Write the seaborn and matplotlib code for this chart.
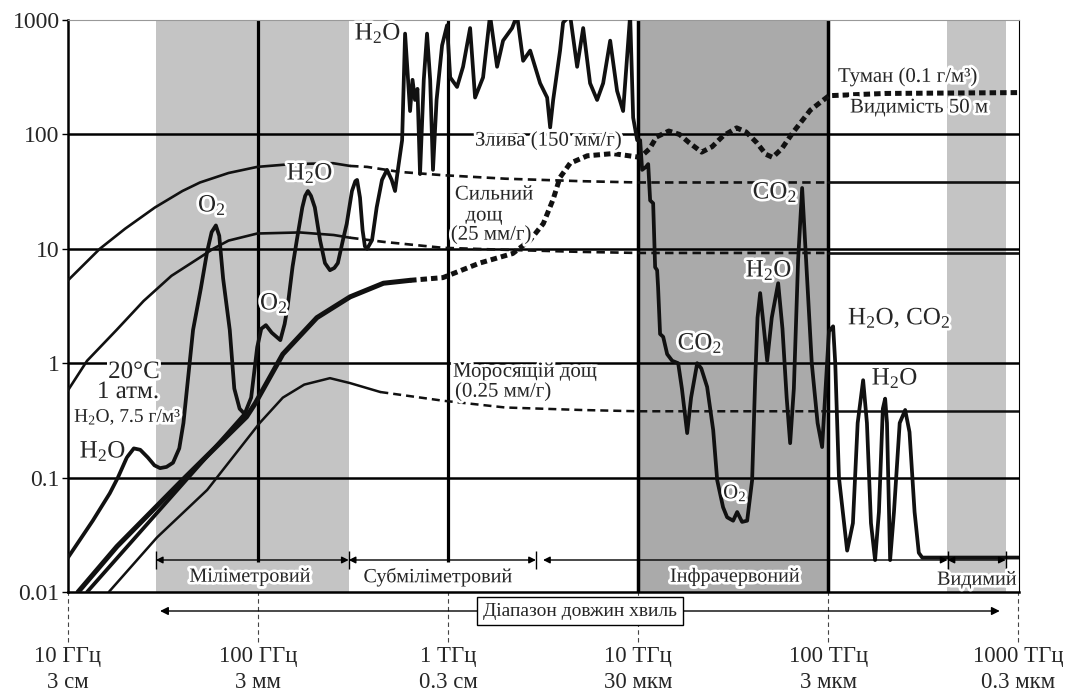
import matplotlib
matplotlib.use("Agg")
import matplotlib.pyplot as plt
import matplotlib.patheffects as pe
from matplotlib.ticker import NullLocator
import numpy as np
import seaborn as sns

# frequency in GHz, attenuation in dB/km
gas_ghz = [10, 13.5, 16.6, 18.3, 20.4, 22.2, 24, 26.3, 28.5, 30.5, 33, 35.7, 38.5,
           40.5, 42.3, 45.5, 50, 54, 57, 60, 62.5, 65.5, 71, 75, 80, 85, 92, 99,
           104, 110, 118, 131, 138, 143, 152, 160, 171, 177, 183, 190, 199, 212,
           225, 239, 252, 263, 280, 293, 312, 325, 332, 344, 355, 365, 375, 398,
           421, 449, 477, 505, 526, 547, 573, 594, 631, 650, 670, 690, 712, 745,
           775, 805, 833, 870, 930, 988, 1026, 1115, 1199, 1306, 1387, 1528, 1663,
           1811, 1947, 2172, 2307, 2483, 2704, 3050, 3321, 3445, 3573, 3884, 4030,
           4388, 4777, 5140, 5588, 6085, 6546, 7129, 7751, 8339, 9080, 9418, 9888,
           10250, 10500, 11000, 11300, 11570, 12000, 12290, 12590, 12740, 13050,
           13550, 14220, 15110, 16250, 17000, 18120, 19000, 20460, 21500, 23080,
           24840, 26070, 28000, 29400, 31620, 33210, 35240, 37490, 39810, 41300,
           42500, 43880, 45300, 47780, 50500, 54580, 57500, 60500, 63100, 66000,
           69500, 72970, 76000, 82000, 88000, 92970, 97000, 101000, 106200, 109000,
           114000, 125900, 135000, 143000, 152800, 160000, 168000, 176600, 185000,
           194000, 199500, 204000, 211900, 222000, 238000, 254300, 268000, 285000,
           300000, 312600, 1011000]
gas_db = [0.020, 0.042, 0.073, 0.10, 0.15, 0.18, 0.175, 0.15, 0.128, 0.121, 0.124,
          0.135, 0.18, 0.3, 0.6, 1.95, 4.5, 9.5, 14, 16, 13, 5.5, 1.95, 0.6, 0.4,
          0.36, 0.5, 1.38, 2.0, 2.15, 1.85, 1.59, 2.2, 3.1, 7, 11.9, 23, 29, 32,
          29, 23, 11.9, 7.5, 6.5, 6.8, 7.5, 12, 16.6, 32, 39, 40, 28, 14.5, 10.5,
          10, 11.9, 23, 40, 49, 40, 32, 52, 89, 760, 160, 300, 200, 250, 45, 300,
          760, 300, 49, 200, 600, 900, 315, 260, 390, 850, 210, 315, 1100, 390,
          660, 850, 1100, 440, 540, 280, 210, 115, 200, 540, 950, 1100, 390, 850,
          280, 200, 280, 660, 240, 160, 1100, 140, 89,
          89, 49, 52, 55, 26.5, 25, 6.9, 6.5, 4.6, 1.8, 1.7, 1.2, 1.05, 1.0, 0.6,
          0.245, 0.5, 1.0, 0.9, 0.62, 0.26, 0.095, 0.055, 0.045, 0.042, 0.05,
          0.041, 0.042, 0.095, 0.71, 2.5, 4.1, 2.5, 1.05, 2.5, 5.0, 2.0, 0.5, 0.2,
          0.6, 8, 34, 10, 1.0, 0.3, 0.185, 0.6, 1.9, 2.1, 1.0, 0.1, 0.023, 0.04,
          0.3, 0.71, 0.3, 0.04, 0.019, 0.05, 0.4, 0.49, 0.3, 0.019, 0.05, 0.3,
          0.39, 0.25, 0.05, 0.022, 0.02, 0.02]

# second thick branch running beside the fog line into the 85 GHz window
branch_ghz = [12.6, 30, 50, 85]
branch_db = [0.01, 0.051, 0.133, 0.36]

rain150_ghz = [10, 14.7, 20, 28.7, 40, 49.5, 70, 99, 150, 248, 305, 375, 556, 940,
               2000, 5000, 10000, 30000, 100000, 1011000]
rain150_db = [5.3, 10, 15, 23, 32, 38, 46, 52, 55, 56, 53, 52, 47, 44, 41, 39, 38,
              38, 38, 38]

rain25_ghz = [10, 12.6, 18, 25, 35, 50, 58, 70, 99, 166, 250, 305, 457, 940, 2000,
              5000, 10000, 100000, 1011000]
rain25_db = [0.58, 1.05, 1.95, 3.5, 5.8, 8.5, 10, 11.8, 13.6, 13.9, 13.2, 12.5,
             11.5, 10.2, 9.8, 9.4, 9.2, 9.2, 9.2]

drizzle_ghz = [16.4, 29.4, 54, 102, 135, 175, 239, 305, 440, 940, 2000, 5000,
               10000, 100000, 1011000]
drizzle_db = [0.01, 0.03, 0.078, 0.3, 0.5, 0.65, 0.74, 0.67, 0.56, 0.47, 0.41,
              0.39, 0.38, 0.38, 0.38]

fog_ghz = [11.3, 18.1, 40, 87, 97, 135, 204, 305, 457, 631, 940, 1465, 2190, 2700,
           3170, 3570, 3880, 4390, 5400, 7380, 10250, 11500, 12500, 14500, 16500,
           18500, 21600, 24500, 28000, 33000, 37000, 42000, 47000, 51000, 57000,
           65000, 80600, 101000, 200000, 1011000]
fog_db = [0.01, 0.025, 0.095, 0.34, 0.45, 1.2, 2.5, 3.8, 5.0, 5.3, 5.6, 7.5, 9.1,
          11.9, 16.6, 27, 42, 56, 65, 68, 63, 75, 95, 107, 100, 85, 70, 78, 97,
          114, 105, 85, 67, 63, 75, 103, 163, 218, 228, 232]

x_ticks = [10, 100, 1000, 1e4, 1e5, 1e6]
x_labels = ["10 ГГц\n3 см", "100 ГГц\n3 мм", "1 ТГц\n0.3 см", "10 ТГц\n30 мкм",
            "100 ТГц\n3 мкм", "1000 ТГц\n0.3 мкм"]
y_ticks = [0.01, 0.1, 1, 10, 100, 1000]
y_labels = ["0.01", "0.1", "1", "10", "100", "1000"]

bands = [(29, 300, "Міліметровий"), (300, 2900, "Субміліметровий"),
         (3160, 4.25e5, "Інфрачервоний"), (4.25e5, 8.6e5, "Видимий")]
band_bars = [29, 300, 2900, 4.25e5, 8.6e5]

sns.set_theme(style="white")
plt.rcParams["font.family"] = ["Liberation Serif", "DejaVu Serif"]
plt.rcParams["mathtext.fontset"] = "custom"
plt.rcParams["mathtext.rm"] = "Liberation Serif"
plt.rcParams["mathtext.default"] = "regular"

fig = plt.figure(figsize=(10.74, 6.97), dpi=100, facecolor="white")
ax = fig.add_axes([68 / 1074, 105 / 697, 951 / 1074, 572 / 697])
ax.set_xscale("log")
ax.set_yscale("log")
ax.set_xlim(10, 1.01e6)
ax.set_ylim(0.01, 1000)

# shaded windows
ax.axvspan(29, 300, color="#c4c4c4", lw=0, zorder=0)
ax.axvspan(1e4, 1e5, color="#aaaaaa", lw=0, zorder=0)
ax.axvspan(4.2e5, 8.6e5, color="#c4c4c4", lw=0, zorder=0)

# grid
for v in [0.1, 1, 10, 100]:
    ax.axhline(v, color="black", lw=1.8, zorder=1)
ax.vlines([100, 1000], 0.0183, 1000, color="black", lw=2.3, zorder=1)
ax.vlines([1e4, 1e5], 0.01, 1000, color="black", lw=2.5, zorder=1)

dash = (0, (3.2, 2.0))
dots = (0, (1.3, 0.8))


def draw(f, db, breaks, styles, lw):
    f = np.asarray(f, float)
    db = np.asarray(db, float)
    edges = [f[0]] + breaks + [f[-1]]
    for lo, hi, ls in zip(edges[:-1], edges[1:], styles):
        m = (f >= lo) & (f <= hi)
        sns.lineplot(x=f[m], y=db[m], ax=ax, color="#111111", linewidth=lw,
                     linestyle=ls, dash_capstyle="butt", solid_capstyle="round",
                     solid_joinstyle="round", zorder=3)


draw(rain150_ghz, rain150_db, [305, 1e5], ["-", dash, "-"], 1.9)
draw(rain25_ghz, rain25_db, [305, 1e5], ["-", dash, "-"], 1.9)
draw(drizzle_ghz, drizzle_db, [440, 1e5], ["-", dash, "-"], 1.8)
draw(fog_ghz, fog_db, [631], ["-", dots], 3.6)
draw(branch_ghz, branch_db, [], ["-"], 2.7)
draw(gas_ghz, gas_db, [], ["-"], 2.7)

halo = [pe.withStroke(linewidth=4, foreground="white")]


def label(px, py, s, size=15, ha="center"):
    ax.text((px - 68) / 951, (592 - py) / 572, s, transform=ax.transAxes, ha=ha,
            va="center", fontsize=size, path_effects=halo, zorder=6)


label(378, 33, "H$_2$O", 18)
label(838, 77, "Туман (0.1 г/м³)", 15, "left")
label(850, 108, "Видимість 50 м", 15, "left")
label(475, 141, "Злива (150 мм/г)", 15, "left")
label(494, 195, "Сильний", 15)
label(484, 216, "дощ", 15)
label(491, 235, "(25 мм/г)", 15)
label(310, 173, "H$_2$O", 18)
label(212, 205, "O$_2$", 18)
label(274, 303, "O$_2$", 18)
label(134, 372, "20°C", 18)
label(128, 392, "1 атм.", 18)
label(128, 417, "H$_2$O, 7.5 г/м³", 14)
label(103, 451, "H$_2$O", 18)
label(453, 372, "Моросящій дощ", 15, "left")
label(455, 392, "(0.25 мм/г)", 15, "left")
label(700, 343, "CO$_2$", 18)
label(735, 493, "O$_2$", 15)
label(769, 270, "H$_2$O", 18)
label(775, 192, "CO$_2$", 18)
label(848, 318, "H$_2$O, CO$_2$", 18, "left")
label(895, 378, "H$_2$O", 18)

# band arrows
band_y = (592 - 560) / 572
for lo, hi, name in bands:
    ax.annotate("", xy=(hi, band_y), xytext=(lo, band_y),
                xycoords=("data", "axes fraction"),
                arrowprops=dict(arrowstyle="<|-|>", color="black", lw=1.0,
                                shrinkA=0, shrinkB=0, mutation_scale=10), zorder=5)
ax.vlines(band_bars, band_y - 0.016, band_y + 0.016,
          transform=ax.get_xaxis_transform(), color="black", lw=1, zorder=5)
label(250, 577, bands[0][2], 14.5)
label(438, 577, bands[1][2], 14.5)
label(735, 577, bands[2][2], 14.5)
label(977, 580, bands[3][2], 14.5)

# wavelength range arrow under the axis
range_y = (592 - 611) / 572
ax.annotate("", xy=(8.0e5, range_y), xytext=(30.5, range_y),
            xycoords=("data", "axes fraction"), annotation_clip=False,
            arrowprops=dict(arrowstyle="<|-|>", color="black", lw=1.0,
                            shrinkA=0, shrinkB=0, mutation_scale=12))
ax.text((580 - 68) / 951, range_y, "Діапазон довжин хвиль", transform=ax.transAxes,
        ha="center", va="center", fontsize=14,
        bbox=dict(boxstyle="square,pad=0.3", fc="white", ec="black", lw=1))

ax.vlines(x_ticks, -0.087, 0, transform=ax.get_xaxis_transform(), clip_on=False,
          colors="#444444", lw=0.8, linestyles=(0, (4, 3)))

ax.set_xticks(x_ticks)
ax.set_xticklabels(x_labels, fontsize=16.5, linespacing=1.3)
ax.set_yticks(y_ticks)
ax.set_yticklabels(y_labels, fontsize=17)
ax.xaxis.set_minor_locator(NullLocator())
ax.yaxis.set_minor_locator(NullLocator())
ax.tick_params(axis="x", length=0, pad=39)
ax.tick_params(axis="y", length=4, width=1, pad=2, left=True, color="black")
ax.set_xlabel("")
ax.set_ylabel("")

for side in ["left", "bottom"]:
    ax.spines[side].set_linewidth(1.8)
    ax.spines[side].set_color("black")
ax.spines["top"].set_linewidth(0.8)
ax.spines["top"].set_color("#999999")
ax.spines["right"].set_linewidth(0.8)
ax.spines["right"].set_color("black")

fig.savefig("out.png", dpi=100, facecolor="white")
